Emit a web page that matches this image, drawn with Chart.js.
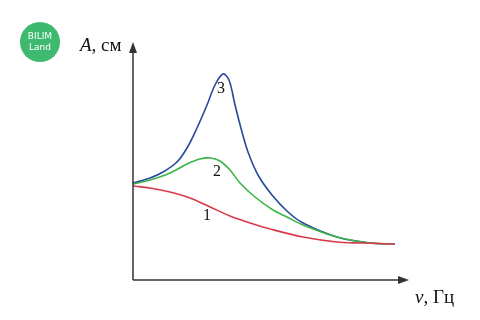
<!DOCTYPE html>
<html>
<head>
<meta charset="utf-8">
<script src="https://cdn.jsdelivr.net/npm/chart.js@4"></script>
<style>
  html, body { margin: 0; padding: 0; background: #fff; }
  #wrap { width: 480px; height: 320px; position: relative; }
</style>
</head>
<body>
<div id="wrap"><canvas id="chart" width="480" height="320"></canvas></div>
<script>
// frequency / amplitude samples (arbitrary units)
const freq1 = [0, 17, 37, 57, 77, 97, 117, 137, 170, 204, 227, 262];
const amp1  = [94, 92, 88, 82, 73, 64, 57, 51, 43, 38, 37, 36];

const freq2 = [0, 17, 37, 54, 67, 77, 87, 97, 107, 122, 140, 154, 170, 204, 237, 262];
const amp2  = [96, 100, 107, 116, 121, 122, 119, 110, 97, 83, 70, 63, 55, 43, 37, 36];

const freq3 = [0, 17, 30, 44, 54, 64, 74, 82, 90, 96, 102, 109, 115, 125, 139, 155, 170, 204, 237, 262];
const amp3  = [97, 102, 108, 118, 132, 152, 175, 195, 206, 200, 175, 148, 128, 105, 85, 68, 57, 43, 37, 36];

// curve numbers and where they sit
const curveLabels = ['1', '2', '3'];
const labelX = [74, 84, 88];
const labelY = [64, 108, 191];

const toPoints = (xs, ys) => xs.map((x, i) => ({ x: x, y: ys[i] }));

const serif = '"Liberation Serif", "DejaVu Serif", serif';

// axes with arrows, labels, logo
const decor = {
  id: 'decor',
  afterDraw(chart) {
    const ctx = chart.ctx;
    const a = chart.chartArea;
    const xs = chart.scales.x, ys = chart.scales.y;
    ctx.save();

    // axes
    ctx.strokeStyle = '#333';
    ctx.fillStyle = '#333';
    ctx.lineWidth = 1.5;
    ctx.beginPath();
    ctx.moveTo(a.left, a.bottom);
    ctx.lineTo(a.left, a.top + 4);
    ctx.moveTo(a.left, a.bottom);
    ctx.lineTo(a.right - 4, a.bottom);
    ctx.stroke();
    // arrow heads
    ctx.beginPath();
    ctx.moveTo(a.left, a.top - 3);
    ctx.lineTo(a.left - 4, a.top + 8);
    ctx.lineTo(a.left + 4, a.top + 8);
    ctx.closePath();
    ctx.fill();
    ctx.beginPath();
    ctx.moveTo(a.right + 1, a.bottom);
    ctx.lineTo(a.right - 10, a.bottom - 4);
    ctx.lineTo(a.right - 10, a.bottom + 4);
    ctx.closePath();
    ctx.fill();

    // axis titles
    ctx.fillStyle = '#111';
    ctx.textBaseline = 'middle';
    ctx.textAlign = 'left';
    ctx.font = 'italic 19px ' + serif;
    ctx.fillText('A', 80, 46);
    let w = ctx.measureText('A').width;
    ctx.font = '19px ' + serif;
    ctx.fillText(', см', 80 + w, 46);

    ctx.font = 'italic 19px ' + serif;
    ctx.fillText('ν', 415, 298);
    w = ctx.measureText('ν').width;
    ctx.font = '19px ' + serif;
    ctx.fillText(', Гц', 415 + w, 298);

    // curve numbers
    ctx.textAlign = 'center';
    ctx.font = '16px ' + serif;
    curveLabels.forEach((t, i) => {
      ctx.fillText(t, xs.getPixelForValue(labelX[i]), ys.getPixelForValue(labelY[i]));
    });

    // logo
    ctx.fillStyle = '#3dba6f';
    ctx.beginPath();
    ctx.arc(40, 42, 20, 0, Math.PI * 2);
    ctx.fill();
    ctx.fillStyle = '#fff';
    ctx.font = '9px "DejaVu Sans", sans-serif';
    ctx.fillText('BILIM', 40, 37);
    ctx.fillText('Land', 40, 48);

    ctx.restore();
  }
};

new Chart(document.getElementById('chart'), {
  type: 'scatter',
  data: {
    datasets: [
      { label: '1', data: toPoints(freq1, amp1), borderColor: '#d83a4c' },
      { label: '2', data: toPoints(freq2, amp2), borderColor: '#3cb447' },
      { label: '3', data: toPoints(freq3, amp3), borderColor: '#274a9c' }
    ].map(d => Object.assign(d, {
      showLine: true,
      borderWidth: 1.6,
      pointRadius: 0,
      fill: false,
      tension: 0.35
    }))
  },
  options: {
    responsive: false,
    animation: false,
    layout: { padding: { left: 133, top: 45, right: 72, bottom: 40 } },
    plugins: { legend: { display: false }, tooltip: { enabled: false } },
    scales: {
      x: { type: 'linear', min: 0, max: 275, display: false },
      y: { type: 'linear', min: 0, max: 235, display: false }
    }
  },
  plugins: [decor]
});
</script>
</body>
</html>
